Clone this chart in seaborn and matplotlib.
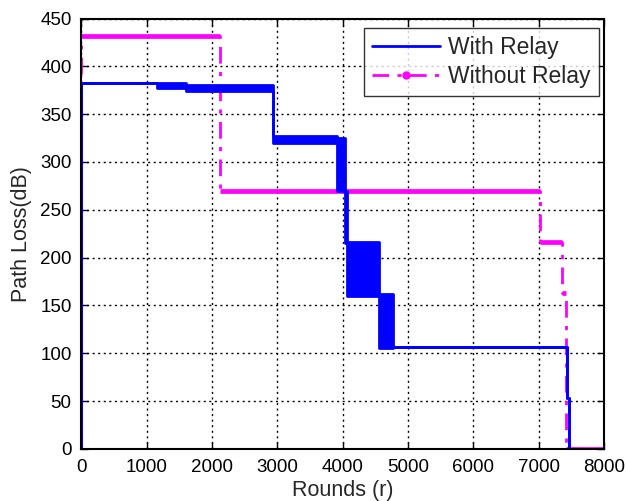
import matplotlib
matplotlib.use("Agg")
import matplotlib.pyplot as plt
import seaborn as sns
import pandas as pd
import numpy as np

# ---- data ----
# With Relay: step levels; lo/hi give the band where the curve oscillates
relay_x  = [0, 0, 1150, 1600, 2937, 3916, 4040, 4069, 4558, 4772, 7434, 7460, 8000]
relay_lo = [0, 383, 377, 374, 320, 270, 215, 160, 105, 107, 53, 0, 0]
relay_hi = [0, 383, 383, 380, 327, 325, 270, 216, 162, 107, 53, 0, 0]

# Without Relay: step levels
norelay_x = [0, 0, 2126, 7020, 7357, 7418, 8000]
norelay_y = [0, 432, 270, 216, 163, 0, 0]

x_ticks = [0, 1000, 2000, 3000, 4000, 5000, 6000, 7000, 8000]
y_ticks = [0, 50, 100, 150, 200, 250, 300, 350, 400, 450]

sns.set_theme(style="white")
plt.rcParams['font.family'] = ['Liberation Sans', 'DejaVu Sans']

fig = plt.figure(figsize=(6.26, 5.01), dpi=100)
ax = fig.add_axes([0.130, 0.104, 0.835, 0.859])

blue = "#0000FF"
mag = "#FF00FF"

df_r = pd.DataFrame({"x": relay_x, "lo": relay_lo, "hi": relay_hi})
df_n = pd.DataFrame({"x": norelay_x, "y": norelay_y})

# Without relay: dash-dot step line plus dense-dot looking level segments
sns.lineplot(data=df_n, x="x", y="y", ax=ax, color=mag, lw=2.0, ls=(0, (6, 3, 1.5, 3)),
             drawstyle="steps-post", estimator=None, sort=False, zorder=2)
ax.hlines(df_n["y"].iloc[1:-1], df_n["x"].iloc[1:-1], df_n["x"].iloc[2:], color=mag,
          lw=3.4, zorder=2)

# With relay: bands + step lines
ax.fill_between(df_r["x"], df_r["lo"], df_r["hi"], step="post", color=blue, lw=0, zorder=3)
sns.lineplot(data=df_r, x="x", y="lo", ax=ax, color=blue, lw=2.0,
             drawstyle="steps-post", estimator=None, sort=False, zorder=3)
sns.lineplot(data=df_r, x="x", y="hi", ax=ax, color=blue, lw=2.0,
             drawstyle="steps-post", estimator=None, sort=False, zorder=3)
# bottom zero segment shows both colours
ax.hlines([0], [7460], [8000], color=mag, lw=2.5, ls=(0, (4, 4)), zorder=4)

ax.set_xlim(0, 8000)
ax.set_ylim(0, 450)
ax.set_xticks(x_ticks)
ax.set_yticks(y_ticks)
ax.tick_params(direction="in", length=5, width=1, labelsize=13.5, top=True, right=True,
               bottom=True, left=True, colors="black", pad=7)
ax.grid(True, color="black", ls=(0, (1.5, 2.5)), lw=1.0)
for s in ax.spines.values():
    s.set_color("black")
    s.set_linewidth(1.5)
    s.set_visible(True)
    s.set_zorder(5)

ax.set_xlabel("Rounds (r)", fontsize=15.5, labelpad=3)
ax.set_ylabel("Path Loss(dB)", fontsize=15.5, labelpad=6)

from matplotlib.lines import Line2D
handles = [Line2D([0], [0], color=blue, lw=2),
           Line2D([0], [0], color=mag, lw=2, ls=(0, (6, 3, 1.5, 3)), marker="o", markersize=5)]
leg = ax.legend(handles, ["With Relay", "Without Relay"], loc="upper right",
                fontsize=16.5, frameon=True, fancybox=False, edgecolor="black",
                handlelength=3.0, borderpad=0.35, labelspacing=0.3, handletextpad=0.35,
                bbox_to_anchor=(0.99, 0.979), borderaxespad=0)
leg.get_frame().set_linewidth(1.0)
leg.set_zorder(6)

fig.savefig("out.png", dpi=100)
